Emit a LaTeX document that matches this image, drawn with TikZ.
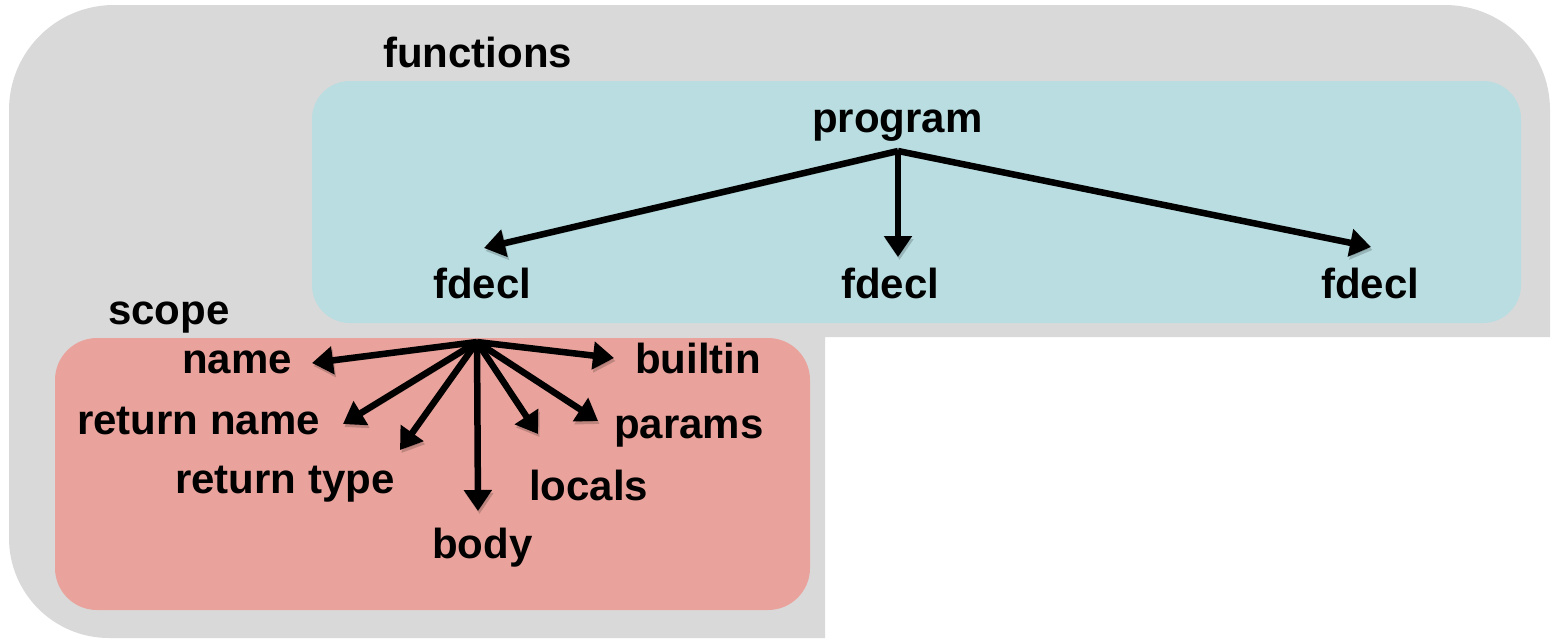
\documentclass[tikz,border=0pt]{standalone}
\usepackage{fontspec}
\setmainfont{Liberation Sans}
\usetikzlibrary{arrows.meta}
\definecolor{outergray}{HTML}{D9D9D9}
\definecolor{funcblue}{HTML}{B9DDE1}
\definecolor{scopepink}{HTML}{E9A39C}
\tikzset{
  lbl/.style={inner sep=0pt, anchor=base west, font=\fontsize{42}{50}\selectfont\bfseries},
  arr/.style={line width=6.5pt, -{Triangle[length=21pt,width=27pt]},
    preaction={draw=black, opacity=0.18, transform canvas={xshift=1.5pt,yshift=-3pt}}},
}
\begin{document}
\begin{tikzpicture}[x=1pt,y=1pt]
\useasboundingbox (0,0) rectangle (1562,-640);
% outer gray region
\fill[outergray] (114,-5) -- (1445,-5) arc[start angle=90,end angle=0,radius=105]
  -- (1550,-337) -- (825,-337) -- (825,-638) -- (109,-638)
  arc[start angle=270,end angle=180,radius=100] -- (9,-110)
  arc[start angle=180,end angle=90,radius=105] -- cycle;
% functions box
\fill[funcblue, rounded corners=38pt] (312,-81) rectangle (1521,-323);
% scope box
\fill[scopepink, rounded corners=42pt] (55,-338) rectangle (810,-610);

% labels
\node[lbl] (functions) at (383,-67) {functions};
\node[lbl] (program) at (812,-132) {program};
\node[lbl] (fdeclA) at (433,-298) {fdecl};
\node[lbl] (fdeclB) at (841,-298) {fdecl};
\node[lbl] (fdeclC) at (1321,-298) {fdecl};
\node[lbl] (scope) at (108,-324) {scope};
\node[lbl] (name) at (182,-373) {name};
\node[lbl] (retname) at (77,-434) {return name};
\node[lbl] (rettype) at (175,-493) {return type};
\node[lbl] (body) at (432,-558) {body};
\node[lbl] (locals) at (529,-500) {locals};
\node[lbl] (params) at (614,-438) {params};
\node[lbl] (builtin) at (635,-373) {builtin};

% hubs and arrow tips
\coordinate (phub) at (898,-151);
\coordinate (tA) at (484,-248);
\coordinate (tB) at (898,-257);
\coordinate (tC) at (1371,-247);
\coordinate (shub) at (477,-342);
\coordinate (tname) at (312,-363);
\coordinate (tretname) at (343,-424);
\coordinate (trettype) at (400,-450);
\coordinate (tbody) at (478,-511);
\coordinate (tlocals) at (538,-434);
\coordinate (tparams) at (598,-421);
\coordinate (tbuiltin) at (614,-358);

\draw[arr] (phub) -- (tA);
\draw[arr] (phub) -- (tB);
\draw[arr] (phub) -- (tC);
\draw[arr] (shub) -- (tname);
\draw[arr] (shub) -- (tretname);
\draw[arr] (shub) -- (trettype);
\draw[arr] (shub) -- (tbody);
\draw[arr] (shub) -- (tlocals);
\draw[arr] (shub) -- (tparams);
\draw[arr] (shub) -- (tbuiltin);
\end{tikzpicture}
\end{document}
